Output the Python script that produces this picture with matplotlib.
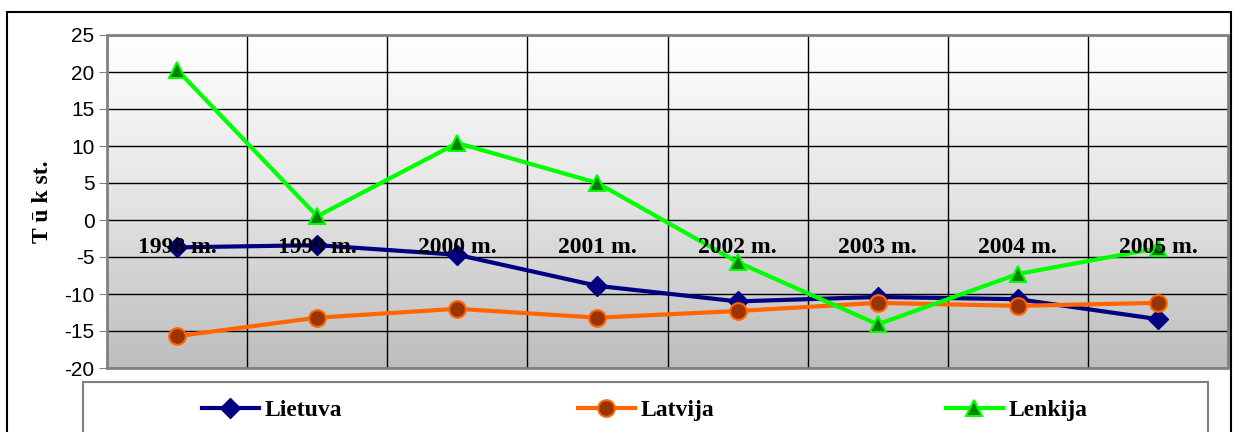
import numpy as np
import matplotlib.pyplot as plt
from matplotlib.patches import Rectangle
from matplotlib.colors import LinearSegmentedColormap

plt.rcParams["axes.unicode_minus"] = False

years = ["1998 m.", "1999 m.", "2000 m.", "2001 m.", "2002 m.", "2003 m.", "2004 m.", "2005 m."]
lietuva = [-3.7, -3.4, -4.7, -8.9, -11.0, -10.4, -10.7, -13.4]
latvija = [-15.7, -13.2, -12.0, -13.2, -12.3, -11.2, -11.6, -11.2]
lenkija = [20.3, 0.5, 10.4, 5.0, -5.7, -14.1, -7.3, -3.8]

W, H = 1234, 432
fig = plt.figure(figsize=(W / 100, H / 100), dpi=100)
ax = fig.add_axes([107 / W, 1 - 368 / H, (1228 - 107) / W, (368 - 35) / H])

serif = "Liberation Serif"
sans = "Liberation Sans"

# gradient background of plot area
grad = np.linspace(0, 1, 256).reshape(-1, 1)
cmap = LinearSegmentedColormap.from_list("bg", ["#ffffff", "#e4e4e4", "#bdbdbd"])
ax.imshow(grad, cmap=cmap, aspect="auto", extent=[0, 1, 0, 1],
          transform=ax.transAxes, zorder=0)

x = np.arange(len(years))
l1, = ax.plot(x, lietuva, color="#000080", lw=3, marker="D", ms=10,
              mfc="#000080", mec="#000080", zorder=5, label="Lietuva")
l2, = ax.plot(x, latvija, color="#ff6600", lw=3, marker="o", ms=12,
              mfc="#993300", mec="#ff6600", mew=1.5, zorder=5, label="Latvija")
l3, = ax.plot(x, lenkija, color="#00ff00", lw=3, marker="^", ms=11,
              mfc="#008000", mec="#00ff00", mew=1.5, zorder=6, label="Lenkija")

# category axis crosses at 0
ax.spines["bottom"].set_position(("data", 0))
ax.spines["bottom"].set_visible(False)
for s in ["top", "right", "left"]:
    ax.spines[s].set_visible(False)

ax.set_xlim(-0.5, len(years) - 0.5)
ax.set_ylim(-20, 25)
ax.set_yticks(np.arange(-20, 26, 5))
ax.set_xticks(x)
ax.set_xticklabels(years, fontfamily=serif, fontweight="bold", fontsize=17)

# grid: horizontal from y axis, vertical category separators
ax.grid(True, which="major", axis="y", color="black", lw=1)
ax.vlines(np.arange(1, len(years)) - 0.5, -20, 25, color="black", lw=1, zorder=1)
ax.set_axisbelow(True)
ax.xaxis.set_zorder(10)  # year labels drawn over the lines

ax.add_patch(Rectangle((0, 0), 1, 1, transform=ax.transAxes, fill=False,
                       ec="#808080", lw=2, zorder=7, clip_on=False))
ax.tick_params(axis="x", which="both", length=0, pad=12)
ax.tick_params(axis="y", length=6, color="#808080", pad=3, labelsize=15)
for t in ax.get_yticklabels():
    t.set_fontfamily(sans)

ax.set_ylabel("T ū k st.", fontfamily=serif, fontweight="bold", fontsize=17, labelpad=8)

# outer chart border
fig.patches.append(Rectangle((7 / W, -0.1), (1231 - 7) / W, 1.1 - 12 / H,
                             transform=fig.transFigure, fill=False,
                             ec="black", lw=1.5))

# legend box
fig.patches.append(Rectangle((83 / W, -0.1), (1208 - 83) / W, 0.1 + 1 - 382 / H,
                             transform=fig.transFigure, fill=True, fc="white",
                             ec="#808080", lw=1.5))
for line, xl in zip([l1, l2, l3], [202, 578, 946]):
    fig.legend(handles=[line], loc="center left", bbox_to_anchor=(xl / W, 1 - 410 / H),
               frameon=False, borderpad=0, borderaxespad=0, handlelength=2.4,
               handletextpad=0.25, prop={"family": serif, "weight": "bold", "size": 17})

fig.savefig("out.png", dpi=100)
